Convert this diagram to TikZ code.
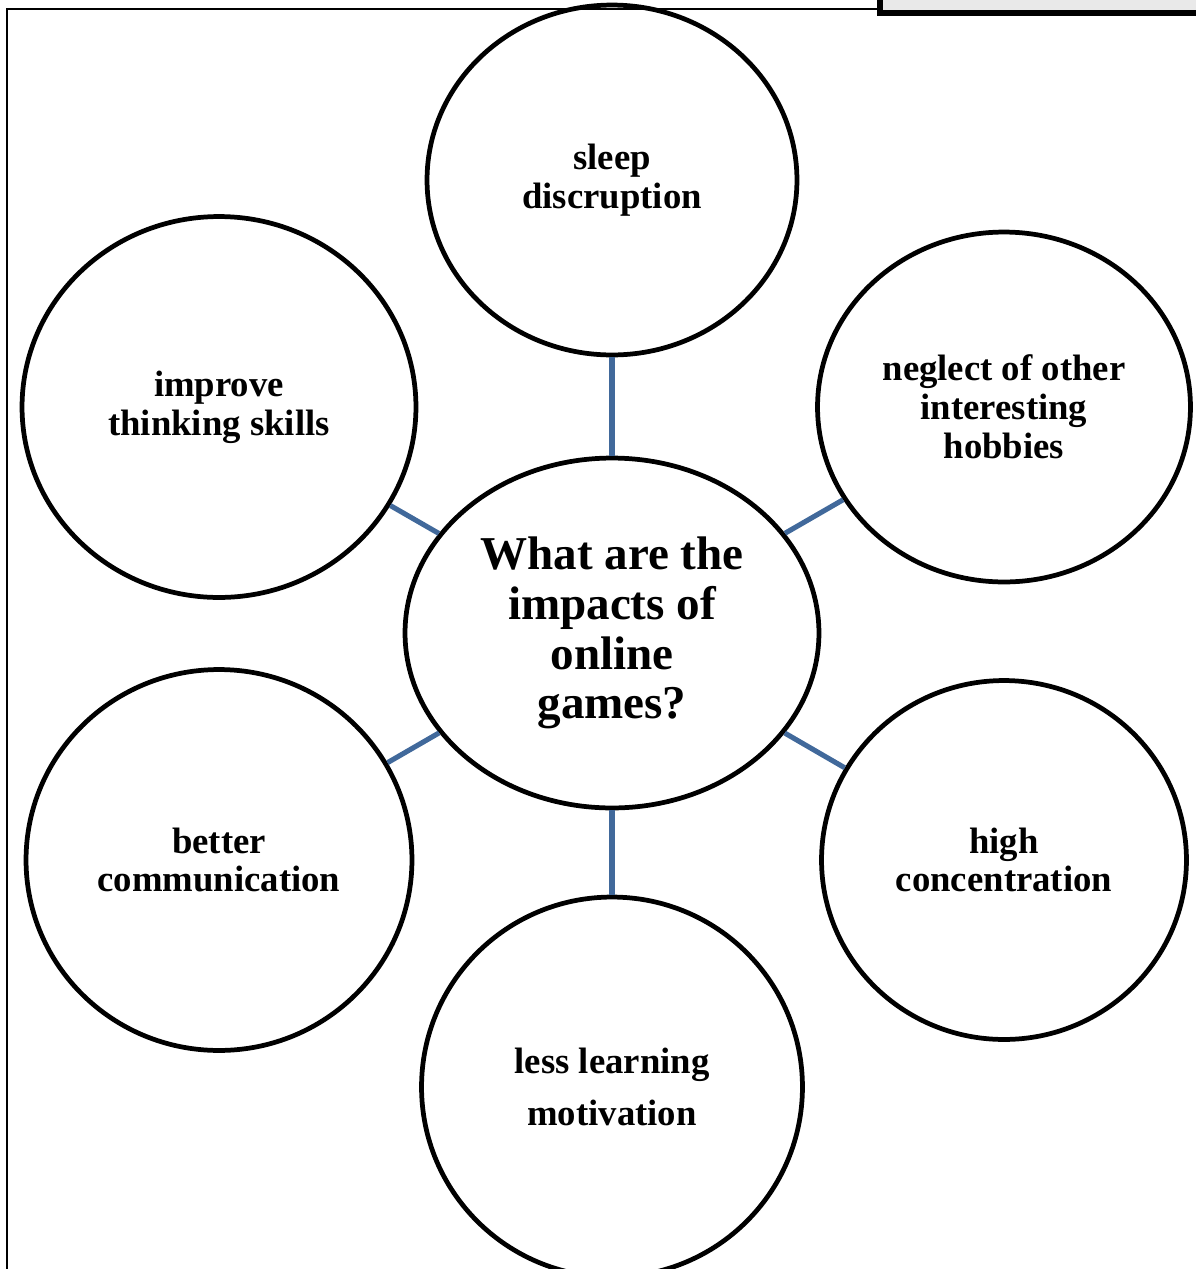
\documentclass[tikz,border=0pt]{standalone}
\usepackage{fontspec}
\setmainfont{Liberation Serif}
\usetikzlibrary{shapes.geometric}
\definecolor{linkblue}{RGB}{65,105,155}
\begin{document}
\begin{tikzpicture}[x=0.02cm, y=-0.02cm]
\tikzstyle{bubble} = [ellipse, draw=black, line width=2.7pt, inner sep=0pt, align=center, font=\bfseries\fontsize{20.9pt}{22.1pt}\selectfont]
\tikzstyle{link} = [draw=linkblue, line width=2.9pt]
\useasboundingbox (0,0) rectangle (1196,1269);
% frame and grey tab
\draw[line width=1.2pt] (7,1290) -- (7,9) -- (880,9);
\draw[line width=3pt, fill=gray!17] (880,-20) rectangle (1220,13);
% bubbles
\node (C0) at (612,633) [bubble, minimum width=8.28cm, minimum height=7.0cm, font=\bfseries\fontsize{26.8pt}{28.4pt}\selectfont] {What are the\\impacts of\\online\\games?};
\node (C1) at (612,180) [bubble, minimum width=7.4cm, minimum height=7.0cm] {sleep\\discruption};
\node (C2) at (1004,407) [bubble, minimum width=7.46cm, minimum height=7.0cm] {neglect of other\\interesting\\hobbies};
\node (C3) at (1004,860) [bubble, minimum width=7.3cm, minimum height=7.18cm] {high\\concentration};
\node (C4) at (612,1087) [bubble, minimum width=7.62cm, minimum height=7.6cm, font=\bfseries\fontsize{20.9pt}{30pt}\selectfont] {less learning\\motivation};
\node (C5) at (219,860) [bubble, minimum width=7.72cm, minimum height=7.62cm] {better\\communication};
\node (C6) at (219,407) [bubble, minimum width=7.88cm, minimum height=7.62cm] {improve\\thinking skills};
% links
\draw[link] (C0) -- (C1);
\draw[link] (C0) -- (C2);
\draw[link] (C0) -- (C3);
\draw[link] (C0) -- (C4);
\draw[link] (C0) -- (C5);
\draw[link] (C0) -- (C6);
\end{tikzpicture}
\end{document}
